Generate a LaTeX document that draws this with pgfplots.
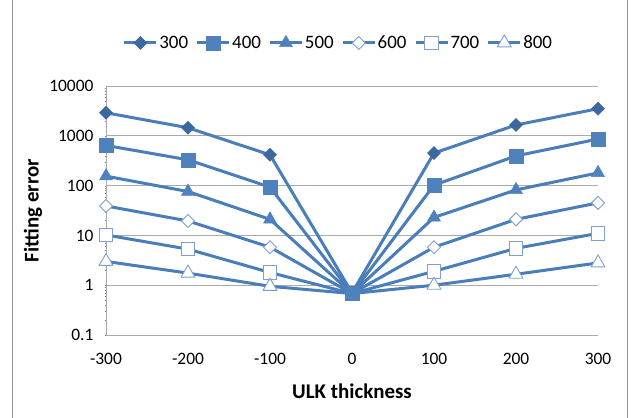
\documentclass[border=0pt]{standalone}
\usepackage{pgfplots}
\pgfplotsset{compat=1.18}
\usepackage{fontspec}
\setmainfont{Carlito}
\definecolor{lineblue}{RGB}{74,126,187}
\definecolor{darkblue}{RGB}{60,104,160}
\definecolor{fillblue}{RGB}{79,129,189}
\definecolor{lightblue}{RGB}{125,160,208}
\definecolor{gridgray}{RGB}{170,170,170}
\definecolor{framegray}{RGB}{150,150,150}
\begin{document}
\begin{tikzpicture}[x=1bp,y=1bp]
\useasboundingbox (-106,-82) rectangle (528,335);
\draw[framegray, line width=1bp] (-93,-90) rectangle (521,345);
\begin{axis}[
  at={(0,0)}, anchor=south west,
  scale only axis, width=492bp, height=249bp,
  ymode=log, xmin=-300, xmax=300, ymin=0.1, ymax=10000,
  xtick={-300,-200,-100,0,100,200,300},
  ytick={0.1,1,10,100,1000,10000},
  yticklabels={0.1,1,10,100,1000,10000},
  minor ytick={}, 
  major tick length=0pt,
  axis x line=bottom, axis y line=left,
  axis line style={gridgray, -, line width=0.8bp},
  ymajorgrids, grid style={gridgray, line width=0.8bp},
  /pgf/number format/assume math mode=true,
  tick label style={font=\fontsize{17.5}{19}\selectfont, text=black},
  xticklabel style={yshift=-15bp},
  yticklabel style={xshift=-9bp},
  xlabel={\textbf{ULK thickness}},
  ylabel={\textbf{Fitting error}},
  label style={font=\fontsize{21}{24}\selectfont},
  xlabel style={at={(0.5,0)}, anchor=center, yshift=-56bp},
  ylabel style={at={(0,0.5)}, anchor=center, yshift=73bp},
  legend columns=6,
  legend style={at={(0.472,1.173)}, anchor=center, draw=none, fill=none,
    font=\fontsize{19}{21}\selectfont,
    nodes={inner sep=1.5bp},
    /tikz/every even column/.append style={column sep=6bp}},
  legend image code/.code={\draw[mark indices={2}] plot coordinates {(0bp,0bp)(16bp,0bp)(32bp,0bp)};},
  every axis plot/.append style={color=lineblue, line width=3bp},
]
\addplot[mark=square*, mark size=4.6bp, mark indices={1,2,3,5,6,7},
  mark options={rotate=45, fill=darkblue, draw=darkblue, line width=0.5bp}]
  coordinates {(-300,2900)(-200,1450)(-100,415)(0,0.7)(100,450)(200,1650)(300,3500)};
\addlegendentry{300}
\addplot[mark=square*, mark size=7bp,
  mark options={fill=fillblue, draw=fillblue, line width=0.5bp}]
  coordinates {(-300,640)(-200,330)(-100,93)(0,0.68)(100,102)(200,395)(300,860)};
\addlegendentry{400}
\addplot[mark=triangle*, mark size=7.5bp, mark indices={1,2,3,5,6,7},
  mark options={fill=fillblue, draw=fillblue, line width=0.5bp}]
  coordinates {(-300,155)(-200,76)(-100,21)(0,0.68)(100,23)(200,82)(300,180)};
\addlegendentry{500}
\addplot[mark=square*, mark size=4.6bp, mark indices={1,2,3,5,6,7},
  mark options={rotate=45, fill=white, draw=lightblue, line width=0.9bp}]
  coordinates {(-300,39)(-200,19.5)(-100,5.8)(0,0.68)(100,5.8)(200,21)(300,45)};
\addlegendentry{600}
\addplot[mark=square*, mark size=6.7bp, mark indices={1,2,3,5,6,7},
  mark options={fill=white, draw=lightblue, line width=0.9bp}]
  coordinates {(-300,10.2)(-200,5.3)(-100,1.8)(0,0.68)(100,1.9)(200,5.5)(300,11)};
\addlegendentry{700}
\addplot[mark=triangle*, mark size=8bp, mark indices={1,2,3,5,6,7},
  mark options={fill=white, draw=lightblue, line width=0.9bp}]
  coordinates {(-300,3.0)(-200,1.75)(-100,0.95)(0,0.68)(100,1.0)(200,1.66)(300,2.8)};
\addlegendentry{800}
\end{axis}
\end{tikzpicture}
\end{document}
